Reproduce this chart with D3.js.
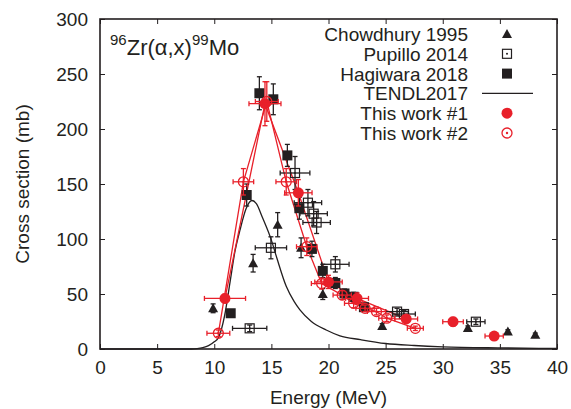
<!DOCTYPE html>
<html>
<head>
<meta charset="utf-8">
<script src="https://cdn.jsdelivr.net/npm/d3@7"></script>
<style>
  body { margin: 0; background: #fff; }
  text { font-family: "Liberation Sans", Arial, sans-serif; fill: #231f20; }
</style>
</head>
<body>
<div id="chart"></div>
<script>
// [energy, dE, sigma, dSigma]
const chowdhury = [
    [9.9, 0, 37, 4], [13.4, 0, 78, 8], [15.55, 0, 113, 11], [17.6, 0, 92, 9],
    [19.5, 0, 50, 5], [24.7, 0, 21, 2], [32.2, 0, 19, 2], [35.7, 0, 16, 1.5], [38.1, 0, 13, 1.5]
];
const pupillo = [
    [13.1, 1.5, 18.8, 3], [14.96, 1.37, 92, 10], [17.07, 1.3, 160, 15], [18.2, 1.2, 133, 12],
    [18.7, 1.2, 123, 11], [18.96, 1.2, 115, 10], [20.6, 1.2, 77, 7], [26.0, 1.0, 34, 3],
    [26.6, 1.0, 31.8, 3], [32.9, 0.8, 24.8, 2.5]
];
const hagiwara = [
    [11.44, 0, 32.5, 3], [12.84, 0, 140, 10], [13.95, 0, 232.5, 15], [15.17, 0, 227, 14],
    [16.4, 0, 176, 10], [17.45, 0, 128, 10], [18.55, 0, 91, 7], [19.5, 0, 71, 6],
    [20.6, 0, 60, 5], [21.4, 0, 50.5, 4], [22.2, 0, 47.5, 4], [23.1, 0, 38, 3]
];
const work1 = [
    [10.94, 1.8, 46, 4], [14.44, 1.4, 223, 20], [17.36, 1.2, 142, 12], [20.0, 1.2, 61, 6],
    [22.5, 1.0, 46, 5], [26.8, 1.0, 27.3, 3], [30.9, 0.9, 24.8, 4], [34.5, 0.8, 11.8, 3]
];
const work2 = [
    [10.36, 1.0, 14.3, 3], [12.55, 0.9, 152, 12], [14.6, 1.0, 225, 18], [16.3, 0.9, 152, 12],
    [18.1, 0.9, 93, 8], [19.4, 0.9, 59.5, 5], [21.2, 0.8, 49, 4], [22.2, 0.8, 41.5, 4],
    [23.2, 0.8, 37, 3], [24.2, 0.8, 34, 3], [25.1, 0.7, 28, 3], [27.6, 0.7, 18.8, 2]
];
const tendlE = [0, 5, 8, 8.5, 9, 9.5, 10, 10.4, 10.9, 11.4, 11.8, 12.25, 12.8, 13.3, 13.7, 14.2,
    15, 15.5, 16.3, 17, 17.5, 18.5, 19.8, 21, 22.8, 25, 27.5, 30, 35, 40];
const tendlS = [0, 0, 0, 0.3, 1.2, 3, 6.5, 11, 30, 62, 88, 108, 128, 135, 132, 120,
    99, 82, 57, 43, 35.5, 25, 17.3, 12, 8.5, 5, 3.2, 2, 1, 0.5];
const xTicks = [0, 5, 10, 15, 20, 25, 30, 35, 40];
const yTicks = [0, 50, 100, 150, 200, 250, 300];
const legendLabels = ["Chowdhury 1995", "Pupillo 2014", "Hagiwara 2018", "TENDL2017", "This work #1", "This work #2"];

const width = 571, height = 409;
const margin = { top: 19, right: 14, bottom: 60, left: 100 };
const red = "#e8202a", ink = "#231f20";

const svg = d3.select("#chart").append("svg")
    .attr("width", width)
    .attr("height", height);

const x = d3.scaleLinear().domain([0, 40]).range([margin.left, width - margin.right]);
const y = d3.scaleLinear().domain([0, 300]).range([height - margin.bottom, margin.top]);

// axes with inward ticks on all sides
const axisStyle = g => {
    g.select(".domain").remove();
    g.selectAll("line").attr("stroke", ink).attr("stroke-width", 1);
};
svg.append("g").attr("transform", `translate(0,${y(0)})`)
    .call(d3.axisBottom(x).tickValues(xTicks).tickSize(-5).tickPadding(12))
    .call(axisStyle)
    .selectAll("text").attr("font-size", 19).attr("font-family", "Liberation Sans, Arial, sans-serif").attr("fill", ink);
svg.append("g").attr("transform", `translate(0,${y(300)})`)
    .call(d3.axisTop(x).tickValues(xTicks).tickSize(-5).tickFormat(""))
    .call(axisStyle);
svg.append("g").attr("transform", `translate(${x(0)},0)`)
    .call(d3.axisLeft(y).tickValues(yTicks).tickSize(-5).tickPadding(12))
    .call(axisStyle)
    .selectAll("text").attr("font-size", 19).attr("font-family", "Liberation Sans, Arial, sans-serif").attr("fill", ink);
svg.append("g").attr("transform", `translate(${x(40)},0)`)
    .call(d3.axisRight(y).tickValues(yTicks).tickSize(-5).tickFormat(""))
    .call(axisStyle);

svg.append("rect")
    .attr("x", x(0)).attr("y", y(300))
    .attr("width", x(40) - x(0)).attr("height", y(0) - y(300))
    .attr("fill", "none").attr("stroke", ink).attr("stroke-width", 1.6);

svg.append("text")
    .attr("x", (x(0) + x(40)) / 2).attr("y", 404)
    .attr("text-anchor", "middle").attr("font-size", 19)
    .text("Energy (MeV)");
svg.append("text")
    .attr("transform", `translate(29,${(y(0) + y(300)) / 2}) rotate(-90)`)
    .attr("text-anchor", "middle").attr("font-size", 19)
    .text("Cross section (mb)");

// reaction label
const title = svg.append("text").attr("x", 110).attr("y", 55).attr("font-size", 22);
title.append("tspan").attr("font-size", 15).attr("dy", -10).text("96");
title.append("tspan").attr("dy", 10).text("Zr(α,x)");
title.append("tspan").attr("font-size", 15).attr("dy", -10).text("99");
title.append("tspan").attr("dy", 10).text("Mo");

// TENDL curve
const tendl = tendlE.map((e, i) => [e, tendlS[i]]);
svg.append("path")
    .datum(tendl)
    .attr("fill", "none").attr("stroke", ink).attr("stroke-width", 1.3)
    .attr("d", d3.line().x(d => x(d[0])).y(d => y(d[1])).curve(d3.curveMonotoneX));

// lines through this work
const lineFor = pts => d3.line().x(d => x(d[0])).y(d => y(d[2]))(pts);
svg.append("path").attr("d", lineFor(work1.filter(d => d[0] < 28)))
    .attr("fill", "none").attr("stroke", red).attr("stroke-width", 1.3);
svg.append("path").attr("d", lineFor(work2))
    .attr("fill", "none").attr("stroke", red).attr("stroke-width", 1.3);

function errorBars(data, color) {
    const g = svg.append("g").attr("stroke", color).attr("stroke-width", 1.3);
    const cap = 2.5;
    data.forEach(d => {
        const cx = x(d[0]), cy = y(d[2]);
        if (d[1] > 0) {
            const x0 = x(d[0] - d[1]), x1 = x(d[0] + d[1]);
            g.append("line").attr("x1", x0).attr("x2", x1).attr("y1", cy).attr("y2", cy);
            g.append("line").attr("x1", x0).attr("x2", x0).attr("y1", cy - cap).attr("y2", cy + cap);
            g.append("line").attr("x1", x1).attr("x2", x1).attr("y1", cy - cap).attr("y2", cy + cap);
        }
        if (d[3] > 0) {
            const y0 = y(d[2] - d[3]), y1 = y(d[2] + d[3]);
            g.append("line").attr("x1", cx).attr("x2", cx).attr("y1", y0).attr("y2", y1);
            g.append("line").attr("x1", cx - cap).attr("x2", cx + cap).attr("y1", y0).attr("y2", y0);
            g.append("line").attr("x1", cx - cap).attr("x2", cx + cap).attr("y1", y1).attr("y2", y1);
        }
    });
}

const marker = {
    triangle: (g, cx, cy) => g.append("path")
        .attr("d", `M${cx},${cy - 5}L${cx + 5},${cy + 4}L${cx - 5},${cy + 4}Z`).attr("fill", ink),
    openSquare: (g, cx, cy) => {
        g.append("rect").attr("x", cx - 4.5).attr("y", cy - 4.5).attr("width", 9).attr("height", 9)
            .attr("fill", "none").attr("stroke", ink).attr("stroke-width", 1.2);
        g.append("circle").attr("cx", cx).attr("cy", cy).attr("r", 1).attr("fill", ink);
    },
    filledSquare: (g, cx, cy) => g.append("rect")
        .attr("x", cx - 5).attr("y", cy - 5).attr("width", 10).attr("height", 10).attr("fill", ink),
    filledCircle: (g, cx, cy) => g.append("circle")
        .attr("cx", cx).attr("cy", cy).attr("r", 5.5).attr("fill", red),
    openCircle: (g, cx, cy) => {
        g.append("circle").attr("cx", cx).attr("cy", cy).attr("r", 5)
            .attr("fill", "none").attr("stroke", red).attr("stroke-width", 1.3);
        g.append("circle").attr("cx", cx).attr("cy", cy).attr("r", 1.2).attr("fill", red);
    }
};

const series = [
    { data: chowdhury, color: ink, shape: "triangle" },
    { data: pupillo, color: ink, shape: "openSquare" },
    { data: hagiwara, color: ink, shape: "filledSquare" },
    { data: work1, color: red, shape: "filledCircle" },
    { data: work2, color: red, shape: "openCircle" }
];
series.forEach(s => {
    errorBars(s.data, s.color);
    const g = svg.append("g");
    s.data.forEach(d => marker[s.shape](g, x(d[0]), y(d[2])));
});

// legend
const legend = svg.append("g");
const legendShapes = ["triangle", "openSquare", "filledSquare", null, "filledCircle", "openCircle"];
legendLabels.forEach((label, i) => {
    const ly = 34 + i * 19.8;
    legend.append("text")
        .attr("x", 468).attr("y", ly + 7)
        .attr("text-anchor", "end").attr("font-size", 19)
        .text(label);
    if (legendShapes[i]) {
        marker[legendShapes[i]](legend, 507, ly);
    } else {
        legend.append("line").attr("x1", 482).attr("x2", 533).attr("y1", ly).attr("y2", ly)
            .attr("stroke", ink).attr("stroke-width", 1.3);
    }
});
</script>
</body>
</html>
